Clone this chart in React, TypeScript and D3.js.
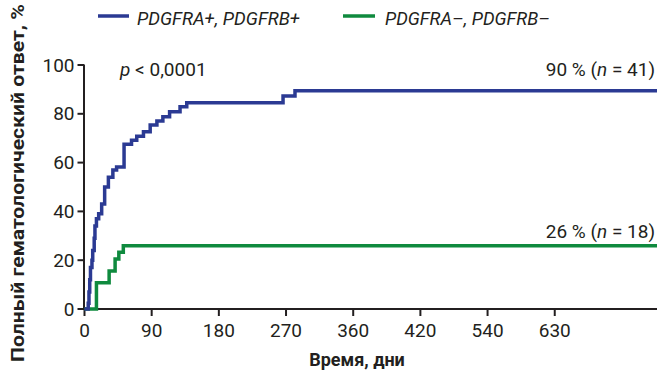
import React from "react";
import * as d3 from "d3";

const W = 657;
const H = 371;

// Kaplan–Meier style step data: [day, percent]
const blueDays = [0, 5, 6, 7, 8, 10, 11, 13, 14, 16, 19, 23, 27, 32, 38, 43, 53, 63, 70, 79, 88, 97, 105, 114, 128, 137, 266, 282, 767];
const bluePct = [0, 2.4, 7, 12, 17, 20, 24, 29, 34, 37, 39, 43, 50, 54, 57, 58.2, 67.5, 69.2, 70.8, 72.6, 75.4, 77.1, 78.8, 80.8, 82.9, 84.5, 87.3, 89.4, 89.4];

const greenDays = [0, 16, 33, 41, 46, 52, 767];
const greenPct = [0, 10.8, 15.6, 20.5, 23.3, 25.9, 25.9];

const xTickValues = [0, 90, 180, 270, 360, 450, 540, 630];
const xTickLabels = ["0", "90", "180", "270", "360", "420", "540", "630"];
const yTickValues = [0, 20, 40, 60, 80, 100];

const BLUE = "#2b3a93";
const GREEN = "#0f8a3e";
const FONT = "Roboto, 'Liberation Sans', sans-serif";

export default function App() {
  const x = d3.scaleLinear().domain([0, 767]).range([84.5, 657]);
  const y = d3.scaleLinear().domain([0, 100]).range([309, 65]);

  const line = d3
    .line<[number, number]>()
    .x((d) => x(d[0]))
    .y((d) => y(d[1]))
    .curve(d3.curveStepAfter);

  const blue = blueDays.map((d, i) => [d, bluePct[i]] as [number, number]);
  const green = greenDays.map((d, i) => [d, greenPct[i]] as [number, number]);

  return (
    <svg
      width={W}
      height={H}
      style={{ position: "absolute", left: 0, top: 0, background: "#fff" }}
      fontFamily={FONT}
    >
      {/* legend */}
      <line x1={98} x2={129} y1={16} y2={16} stroke={BLUE} strokeWidth={3.5} />
      <text x={137} y={25} fontSize={19} fontStyle="italic" fill="#231f20" textLength={163} lengthAdjust="spacingAndGlyphs">
        PDGFRA+, PDGFRB+
      </text>
      <line x1={343} x2={375} y1={16} y2={16} stroke={GREEN} strokeWidth={3.5} />
      <text x={385} y={25} fontSize={19} fontStyle="italic" fill="#231f20" textLength={165} lengthAdjust="spacingAndGlyphs">
        PDGFRA–, PDGFRB–
      </text>

      {/* y axis */}
      <line x1={x(0) - 0.5} x2={x(0) - 0.5} y1={y(100)} y2={y(0) + 1} stroke="#231f20" strokeWidth={2} />
      {yTickValues.map((v) => (
        <g key={v}>
          <line x1={x(0) - 7} x2={x(0)} y1={y(v)} y2={y(v)} stroke="#231f20" strokeWidth={2} />
          <text x={x(0) - 10} y={y(v) + 6.5} fontSize={19} textAnchor="end" fill="#231f20">
            {v}
          </text>
        </g>
      ))}

      {/* x axis */}
      <line x1={x(0) - 1.5} x2={W} y1={y(0)} y2={y(0)} stroke="#231f20" strokeWidth={2} />
      {xTickValues.map((v, i) => (
        <g key={v}>
          <line x1={x(v)} x2={x(v)} y1={y(0)} y2={y(0) + 7} stroke="#231f20" strokeWidth={2} />
          <text x={x(v)} y={337} fontSize={19} textAnchor="middle" fill="#231f20">
            {xTickLabels[i]}
          </text>
        </g>
      ))}

      {/* curves */}
      <path d={line(green) || ""} fill="none" stroke={GREEN} strokeWidth={3.5} />
      <path d={line(blue) || ""} fill="none" stroke={BLUE} strokeWidth={3.5} />

      {/* annotations */}
      <text x={120} y={76} fontSize={19} fill="#231f20">
        <tspan fontStyle="italic">p</tspan> {"< 0,0001"}
      </text>
      <text x={655} y={76} fontSize={19} textAnchor="end" fill="#231f20">
        90 % (<tspan fontStyle="italic">n</tspan> = 41)
      </text>
      <text x={655} y={238} fontSize={19} textAnchor="end" fill="#231f20">
        26 % (<tspan fontStyle="italic">n</tspan> = 18)
      </text>

      {/* axis titles */}
      <text x={357} y={366} fontSize={18} fontWeight="bold" textAnchor="middle" fill="#231f20">
        Время, дни
      </text>
      <text
        transform={`translate(24, 183) rotate(-90)`}
        fontSize={18}
        fontWeight="bold"
        textAnchor="middle"
        fill="#231f20"
        textLength={358}
        lengthAdjust="spacingAndGlyphs"
      >
        Полный гематологический ответ, %
      </text>
    </svg>
  );
}
